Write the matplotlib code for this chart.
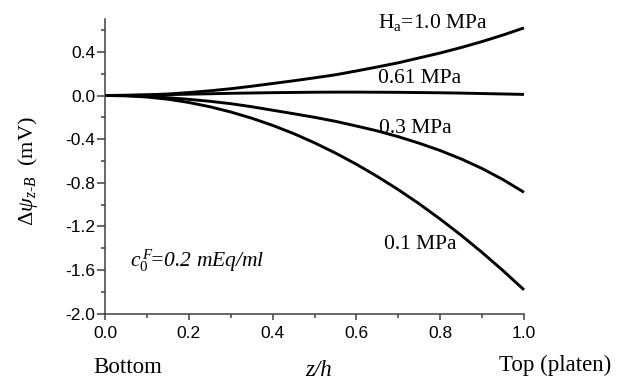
import matplotlib
matplotlib.use("Agg")
import matplotlib.pyplot as plt
from matplotlib.ticker import MultipleLocator

plt.rcParams["mathtext.fontset"] = "custom"
plt.rcParams["mathtext.rm"] = "Liberation Serif"
plt.rcParams["mathtext.it"] = "Liberation Serif:italic"
plt.rcParams["mathtext.bf"] = "Liberation Serif:bold"

z = [0.0, 0.05, 0.1, 0.15, 0.2, 0.25, 0.3, 0.35, 0.4, 0.45, 0.5,
     0.55, 0.6, 0.65, 0.7, 0.75, 0.8, 0.85, 0.9, 0.95, 1.0]
psi_10 = [0.0, 0.002, 0.006, 0.014, 0.027, 0.043, 0.062, 0.085, 0.11, 0.135, 0.162,
          0.19, 0.225, 0.262, 0.30, 0.345, 0.39, 0.44, 0.495, 0.555, 0.62]
psi_061 = [0.0, 0.001, 0.004, 0.008, 0.012, 0.016, 0.02, 0.023, 0.026, 0.028, 0.03,
           0.031, 0.031, 0.03, 0.029, 0.027, 0.025, 0.022, 0.018, 0.014, 0.01]
psi_03 = [0.0, -0.002, -0.008, -0.02, -0.035, -0.053, -0.075, -0.103, -0.135, -0.167, -0.200,
          -0.237, -0.28, -0.325, -0.378, -0.438, -0.505, -0.582, -0.67, -0.772, -0.888]
psi_01 = [0.0, -0.002, -0.014, -0.034, -0.064, -0.103, -0.151, -0.208, -0.274, -0.349, -0.434,
          -0.528, -0.631, -0.743, -0.864, -0.994, -1.134, -1.282, -1.44, -1.607, -1.783]
xticks = [0.0, 0.2, 0.4, 0.6, 0.8, 1.0]
yticks = [0.4, 0.0, -0.4, -0.8, -1.2, -1.6, -2.0]

serif = "Liberation Serif"
sans = "Liberation Sans"
W, H = 619, 381

fig = plt.figure(figsize=(6.19, 3.81), dpi=100)
ax = fig.add_axes([105/W, 1 - 313.5/H, (524-105)/W, (313.5-19.2)/H])

for y in (psi_10, psi_061, psi_03, psi_01):
    ax.plot(z, y, color="black", lw=2.1, solid_capstyle="butt", solid_joinstyle="round", clip_on=False)

ax.set_xlim(0, 1.0)
ax.set_ylim(-2.0, 0.7)
ax.set_xticks(xticks)
ax.set_yticks(yticks)
ax.xaxis.set_minor_locator(MultipleLocator(0.1))
ax.yaxis.set_minor_locator(MultipleLocator(0.2))
ax.set_xticklabels([f"{v:.1f}" for v in xticks], fontfamily=sans, fontsize=12.5)
ax.set_yticklabels([f"{v:.1f}" for v in yticks], fontfamily=sans, fontsize=12.5)
for s in ("top", "right"):
    ax.spines[s].set_visible(False)
for s in ("left", "bottom"):
    ax.spines[s].set_color("#404040")
    ax.spines[s].set_linewidth(1.1)
ax.tick_params(axis="y", which="major", direction="out", length=5.5, width=1.1, color="#404040", pad=1.5)
ax.tick_params(axis="y", which="minor", direction="out", length=3, width=1.1, color="#404040")
ax.tick_params(axis="x", which="major", direction="out", length=4, width=1.1, color="#404040", pad=5)
ax.tick_params(axis="x", which="minor", direction="out", length=3, width=1.1, color="#404040")

def ftext(x, y, s, **kw):
    return fig.text(x / W, 1 - y / H, s, **kw)

tk = dict(fontfamily=serif, fontsize=15.5, ha="left", va="baseline")
ftext(378, 28, r"H$_\mathregular{a}$=1.0 MPa", **tk)
ftext(378, 83, "0.61 MPa", **tk)
ftext(379, 133, "0.3 MPa", **tk)
ftext(384, 249, "0.1 MPa", **tk)
ftext(130, 267, r"$c_0^{\,F}\!$=0.2 mEq/ml", fontfamily=serif, fontsize=15.5, style="italic",
      ha="left", va="baseline")
ftext(93, 373, "Bottom", fontfamily=serif, fontsize=16.5, ha="left", va="baseline")
ftext(305, 376, "z/h", fontfamily=serif, fontsize=16.5, style="italic", ha="left", va="baseline")
ftext(499, 371, "Top (platen)", fontfamily=serif, fontsize=16.5, ha="left", va="baseline")
ftext(28, 171, r"$\mathit{\Delta\psi}_{\mathit{z\text{-}B}}$  (mV)", rotation=90, ha="center", va="center",
      fontfamily=serif, fontsize=16)

fig.savefig("out.png", dpi=100)
